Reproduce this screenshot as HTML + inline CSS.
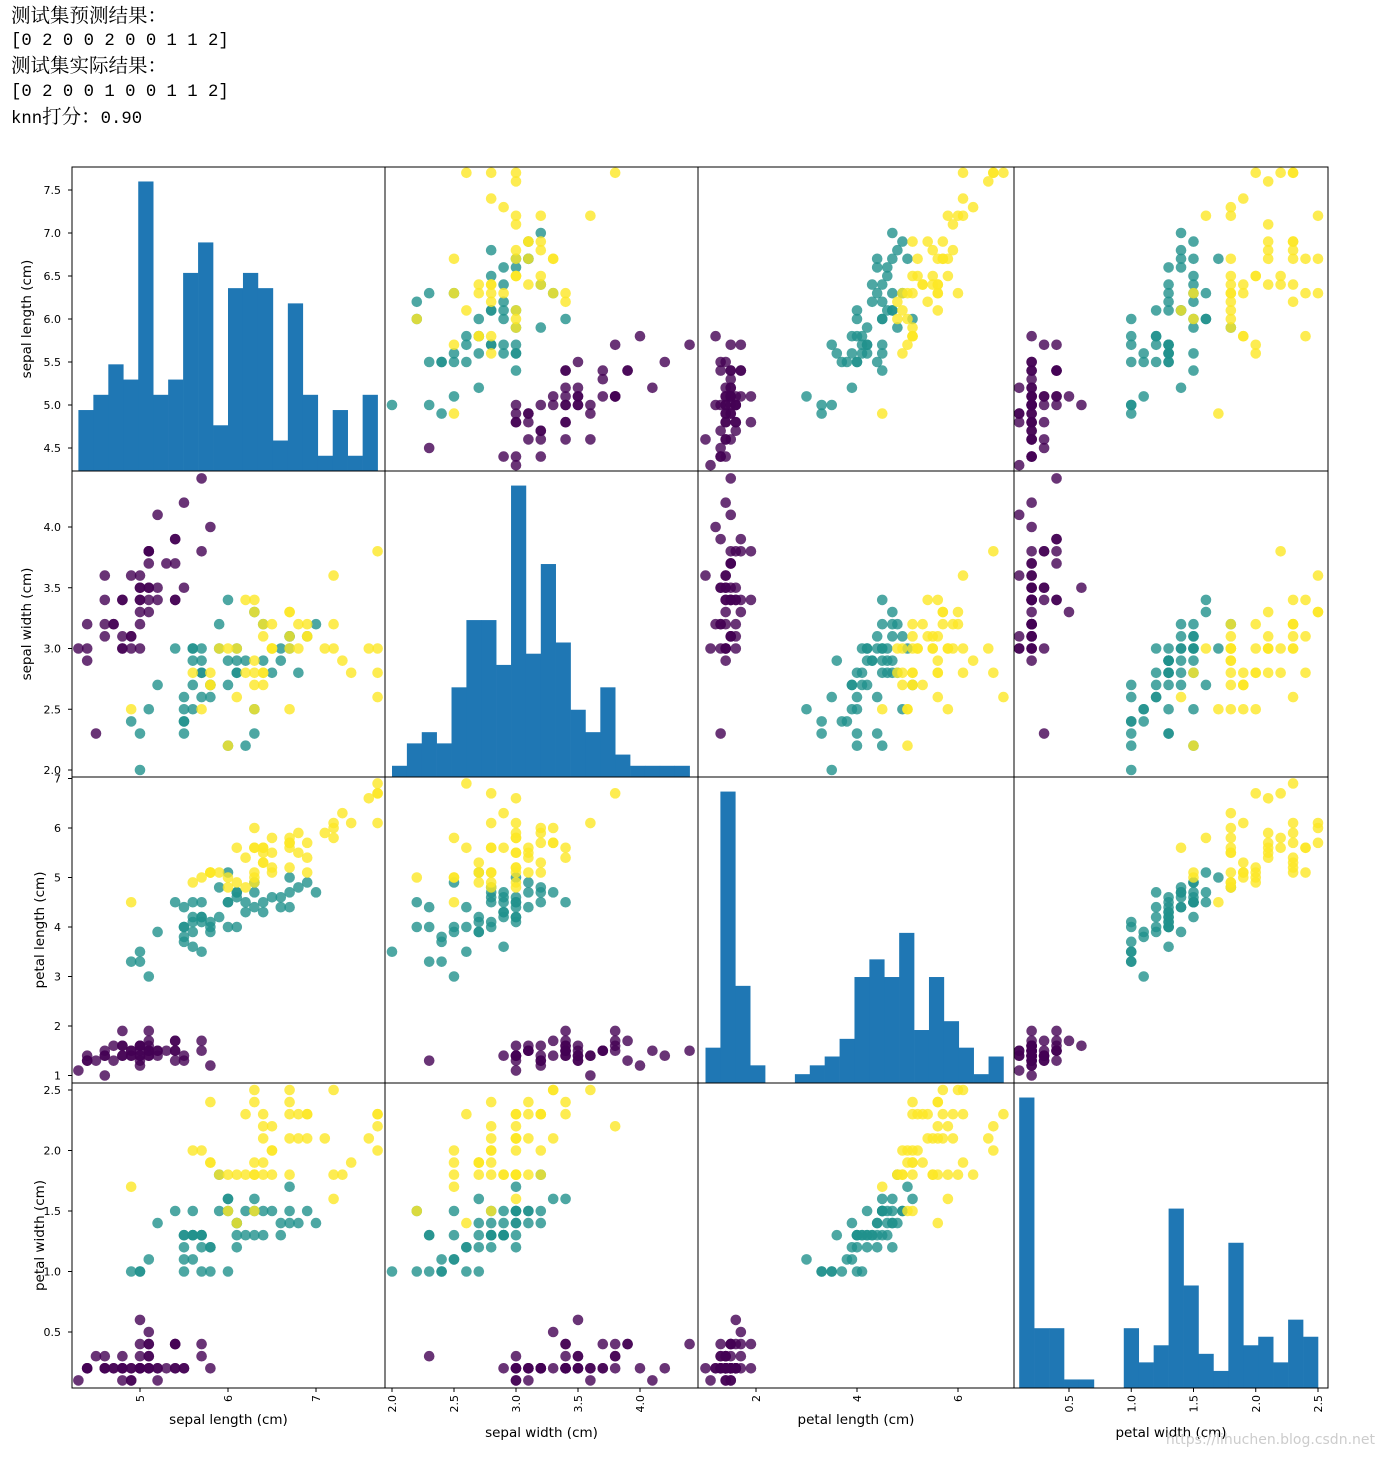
<!DOCTYPE html>
<html><head><meta charset="utf-8">
<style>
body{margin:0;background:#fff;width:1385px;height:1457px;overflow:hidden;}
#hdr{position:absolute;left:11px;top:4px;font-family:"Liberation Mono","Noto Serif CJK SC",monospace;font-size:17.3px;color:#000;white-space:pre;}
#hdr div{height:25.2px;line-height:25.2px;overflow:visible;}
#hdr span{font-family:"Noto Serif CJK SC",serif;font-size:19.5px;line-height:20px;}
svg{position:absolute;left:0;top:0;}
</style></head><body>
<div id="hdr"><div><span>测试集预测结果：</span></div><div>[0 2 0 0 2 0 0 1 1 2]</div><div><span>测试集实际结果：</span></div><div>[0 2 0 0 1 0 0 1 1 2]</div><div>knn<span>打分：</span>0.90</div></div>
<svg id="s" width="1385" height="1457" xmlns="http://www.w3.org/2000/svg"></svg>
<script>
const raw=`5.1,3.5,1.4,0.2,0
4.9,3.0,1.4,0.2,0
4.7,3.2,1.3,0.2,0
4.6,3.1,1.5,0.2,0
5.0,3.6,1.4,0.2,0
5.4,3.9,1.7,0.4,0
4.6,3.4,1.4,0.3,0
5.0,3.4,1.5,0.2,0
4.4,2.9,1.4,0.2,0
4.9,3.1,1.5,0.1,0
5.4,3.7,1.5,0.2,0
4.8,3.4,1.6,0.2,0
4.8,3.0,1.4,0.1,0
4.3,3.0,1.1,0.1,0
5.8,4.0,1.2,0.2,0
5.7,4.4,1.5,0.4,0
5.4,3.9,1.3,0.4,0
5.1,3.5,1.4,0.3,0
5.7,3.8,1.7,0.3,0
5.1,3.8,1.5,0.3,0
5.4,3.4,1.7,0.2,0
5.1,3.7,1.5,0.4,0
4.6,3.6,1.0,0.2,0
5.1,3.3,1.7,0.5,0
4.8,3.4,1.9,0.2,0
5.0,3.0,1.6,0.2,0
5.0,3.4,1.6,0.4,0
5.2,3.5,1.5,0.2,0
5.2,3.4,1.4,0.2,0
4.7,3.2,1.6,0.2,0
4.8,3.1,1.6,0.2,0
5.4,3.4,1.5,0.4,0
5.2,4.1,1.5,0.1,0
5.5,4.2,1.4,0.2,0
4.9,3.1,1.5,0.2,0
5.0,3.2,1.2,0.2,0
5.5,3.5,1.3,0.2,0
4.9,3.6,1.4,0.1,0
4.4,3.0,1.3,0.2,0
5.1,3.4,1.5,0.2,0
5.0,3.5,1.3,0.3,0
4.5,2.3,1.3,0.3,0
4.4,3.2,1.3,0.2,0
5.0,3.5,1.6,0.6,0
5.1,3.8,1.9,0.4,0
4.8,3.0,1.4,0.3,0
5.1,3.8,1.6,0.2,0
4.6,3.2,1.4,0.2,0
5.3,3.7,1.5,0.2,0
5.0,3.3,1.4,0.2,0
7.0,3.2,4.7,1.4,1
6.4,3.2,4.5,1.5,1
6.9,3.1,4.9,1.5,1
5.5,2.3,4.0,1.3,1
6.5,2.8,4.6,1.5,1
5.7,2.8,4.5,1.3,1
6.3,3.3,4.7,1.6,1
4.9,2.4,3.3,1.0,1
6.6,2.9,4.6,1.3,1
5.2,2.7,3.9,1.4,1
5.0,2.0,3.5,1.0,1
5.9,3.0,4.2,1.5,1
6.0,2.2,4.0,1.0,1
6.1,2.9,4.7,1.4,1
5.6,2.9,3.6,1.3,1
6.7,3.1,4.4,1.4,1
5.6,3.0,4.5,1.5,1
5.8,2.7,4.1,1.0,1
6.2,2.2,4.5,1.5,1
5.6,2.5,3.9,1.1,1
5.9,3.2,4.8,1.8,1
6.1,2.8,4.0,1.3,1
6.3,2.5,4.9,1.5,1
6.1,2.8,4.7,1.2,1
6.4,2.9,4.3,1.3,1
6.6,3.0,4.4,1.4,1
6.8,2.8,4.8,1.4,1
6.7,3.0,5.0,1.7,1
6.0,2.9,4.5,1.5,1
5.7,2.6,3.5,1.0,1
5.5,2.4,3.8,1.1,1
5.5,2.4,3.7,1.0,1
5.8,2.7,3.9,1.2,1
6.0,2.7,5.1,1.6,1
5.4,3.0,4.5,1.5,1
6.0,3.4,4.5,1.6,1
6.7,3.1,4.7,1.5,1
6.3,2.3,4.4,1.3,1
5.6,3.0,4.1,1.3,1
5.5,2.5,4.0,1.3,1
5.5,2.6,4.4,1.2,1
6.1,3.0,4.6,1.4,1
5.8,2.6,4.0,1.2,1
5.0,2.3,3.3,1.0,1
5.6,2.7,4.2,1.3,1
5.7,3.0,4.2,1.2,1
5.7,2.9,4.2,1.3,1
6.2,2.9,4.3,1.3,1
5.1,2.5,3.0,1.1,1
5.7,2.8,4.1,1.3,1
6.3,3.3,6.0,2.5,2
5.8,2.7,5.1,1.9,2
7.1,3.0,5.9,2.1,2
6.3,2.9,5.6,1.8,2
6.5,3.0,5.8,2.2,2
7.6,3.0,6.6,2.1,2
4.9,2.5,4.5,1.7,2
7.3,2.9,6.3,1.8,2
6.7,2.5,5.8,1.8,2
7.2,3.6,6.1,2.5,2
6.5,3.2,5.1,2.0,2
6.4,2.7,5.3,1.9,2
6.8,3.0,5.5,2.1,2
5.7,2.5,5.0,2.0,2
5.8,2.8,5.1,2.4,2
6.4,3.2,5.3,2.3,2
6.5,3.0,5.5,1.8,2
7.7,3.8,6.7,2.2,2
7.7,2.6,6.9,2.3,2
6.0,2.2,5.0,1.5,2
6.9,3.2,5.7,2.3,2
5.6,2.8,4.9,2.0,2
7.7,2.8,6.7,2.0,2
6.3,2.7,4.9,1.8,2
6.7,3.3,5.7,2.1,2
7.2,3.2,6.0,1.8,2
6.2,2.8,4.8,1.8,2
6.1,3.0,4.9,1.8,2
6.4,2.8,5.6,2.1,2
7.2,3.0,5.8,1.6,2
7.4,2.8,6.1,1.9,2
6.4,2.8,5.6,2.2,2
6.3,2.8,5.1,1.5,2
6.1,2.6,5.6,1.4,2
7.7,3.0,6.1,2.3,2
6.3,3.4,5.6,2.4,2
6.4,3.1,5.5,1.8,2
6.0,3.0,4.8,1.8,2
6.9,3.1,5.4,2.1,2
6.7,3.1,5.6,2.4,2
6.9,3.1,5.1,2.3,2
5.8,2.7,5.1,1.9,2
6.8,3.2,5.9,2.3,2
6.7,3.3,5.7,2.5,2
6.7,3.0,5.2,2.3,2
6.3,2.5,5.0,1.9,2
6.5,3.0,5.2,2.0,2
6.2,3.4,5.4,2.3,2
5.9,3.0,5.1,1.8,2`;
const D=raw.trim().split("\n").map(l=>l.split(",").map(Number));
const cols=["#440154","#21918c","#fde725"];
const X0=[72,385,698,1014,1328], Y0=[167,471,777,1083,1388];
const xm=[v=>140+(v-5)*88, v=>392+(v-2)*124, v=>756+(v-2)*50.5, v=>1069+(v-0.5)*124.5];
const ym=[v=>190-(v-7.5)*86, v=>527-(v-4)*121.5, v=>1026-(v-2)*49.5, v=>1332-(v-0.5)*121];
const names=["sepal length (cm)","sepal width (cm)","petal length (cm)","petal width (cm)"];
const yt=[[4.5,5.0,5.5,6.0,6.5,7.0,7.5],[2.0,2.5,3.0,3.5,4.0],[1,2,3,4,5,6,7],[0.5,1.0,1.5,2.0,2.5]];
const xt=[[5,6,7],[2.0,2.5,3.0,3.5,4.0],[2,4,6],[0.5,1.0,1.5,2.0,2.5]];
const dec=[1,1,0,1], xdec=[0,1,0,1];
let h='<defs>';
for(let i=0;i<4;i++)for(let j=0;j<4;j++)h+=`<clipPath id="c${i}${j}"><rect x="${X0[j]}" y="${Y0[i]}" width="${X0[j+1]-X0[j]}" height="${Y0[i+1]-Y0[i]}"/></clipPath>`;
h+='</defs>';
for(let i=0;i<4;i++)for(let j=0;j<4;j++){
  h+=`<g clip-path="url(#c${i}${j})">`;
  if(i==j){
    const vals=D.map(d=>d[i]);const mn=Math.min(...vals),mx=Math.max(...vals);
    const n=20,w=(mx-mn)/n,c=new Array(n).fill(0);
    vals.forEach(v=>{let k=Math.floor((v-mn)/w);if(k>=n)k=n-1;c[k]++;});
    const cm=Math.max(...c),ph=Y0[i+1]-Y0[i],sc=ph/1.05/cm;
    for(let k=0;k<n;k++){if(!c[k])continue;const a=xm[j](mn+k*w),b=xm[j](mn+(k+1)*w);
      h+=`<rect x="${a}" y="${Y0[i+1]-c[k]*sc}" width="${b-a+0.3}" height="${c[k]*sc}" fill="#1f77b4"/>`;}
  }else{
    D.forEach(d=>{h+=`<circle cx="${xm[j](d[j])}" cy="${ym[i](d[i])}" r="5.3" fill="${cols[d[4]]}" fill-opacity="0.8"/>`;});
  }
  h+='</g>';
  h+=`<rect x="${X0[j]}" y="${Y0[i]}" width="${X0[j+1]-X0[j]}" height="${Y0[i+1]-Y0[i]}" fill="none" stroke="#000" stroke-width="1"/>`;
}
const F='font-family="DejaVu Sans, Liberation Sans, sans-serif"';
for(let i=0;i<4;i++){
  yt[i].forEach(v=>{const y=ym[i](v);h+=`<line x1="68" x2="72" y1="${y}" y2="${y}" stroke="#000"/><text x="61" y="${y+4}" font-size="11" text-anchor="end" ${F}>${v.toFixed(dec[i])}</text>`;});
  const cy=(Y0[i]+Y0[i+1])/2, lx=i<2?31:44;
  h+=`<text transform="translate(${lx},${cy}) rotate(-90)" font-size="13.5" text-anchor="middle" ${F}>${names[i]}</text>`;
}
for(let j=0;j<4;j++){
  xt[j].forEach(v=>{const x=xm[j](v);h+=`<line y1="1388" y2="1392" x1="${x}" x2="${x}" stroke="#000"/><text transform="translate(${x+4},1395) rotate(-90)" font-size="11" text-anchor="end" ${F}>${v.toFixed(xdec[j])}</text>`;});
  const cx=(X0[j]+X0[j+1])/2, ly=xdec[j]?1437:1424;
  h+=`<text x="${cx}" y="${ly}" font-size="13.5" text-anchor="middle" ${F}>${names[j]}</text>`;
}
h+=`<text x="1375" y="1444" font-size="14" text-anchor="end" fill="#ccc" ${F}>https://lihuchen.blog.csdn.net</text>`;
document.getElementById("s").innerHTML=h;
</script>
</body></html>
